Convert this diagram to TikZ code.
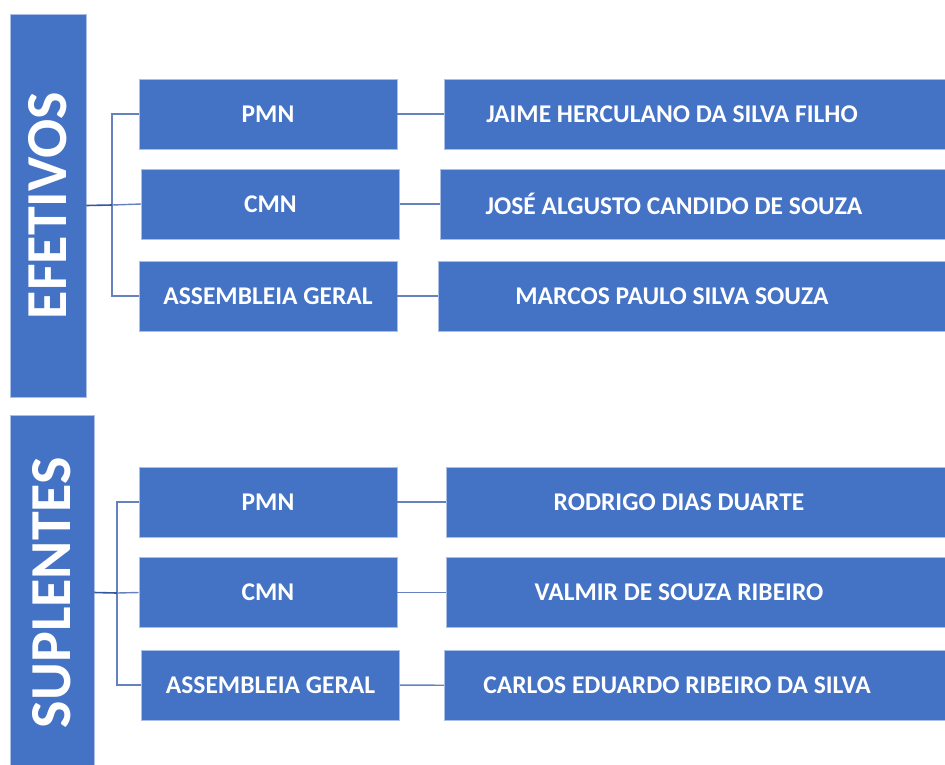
\documentclass[tikz,border=0pt]{standalone}
\usepackage{fontspec}
\setmainfont{Carlito}
\definecolor{caixa}{HTML}{4472C4}
\definecolor{borda}{HTML}{A9BFE6}
\definecolor{ligacao}{HTML}{6682BE}
\definecolor{tronco}{HTML}{34569A}
\tikzset{
	grupo/.style={fill=caixa, draw=borda, line width=0.6pt, text=white, rotate=90, inner sep=0pt, font=\bfseries\fontsize{58}{58}\selectfont},
	cargo/.style={fill=caixa, draw=borda, line width=0.6pt, text=white, inner sep=0pt, minimum width=258, minimum height=70, font=\bfseries\fontsize{25.5}{25.5}\selectfont},
	nome/.style={fill=caixa, draw=borda, line width=0.6pt, anchor=west, minimum width=540, minimum height=70},
	texto/.style={text=white, inner sep=0pt, font=\bfseries\fontsize{25.5}{25.5}\selectfont},
	ramo/.style={draw=ligacao, line width=1.4pt},
	haste/.style={draw=tronco, line width=1.6pt}
}
\begin{document}
\begin{tikzpicture}[x=1pt,y=-1pt]
			\useasboundingbox (0,0) rectangle (945,764);
			\clip (0,0) rectangle (945,764);
			\node[grupo, minimum width=383, minimum height=76] (ef) at (48,205.5) {EFETIVOS};
			\node[grupo, minimum width=355, minimum height=84] (su) at (52,592.5) {SUPLENTES};
			\node[cargo] (p1) at (268,114) {PMN};
			\node[cargo] (c1) at (270.5,204) {CMN};
			\node[cargo] (a1) at (268,296) {ASSEMBLEIA GERAL};
			\node[cargo] (p2) at (268,502) {PMN};
			\node[cargo] (c2) at (268,592.5) {CMN};
			\node[cargo] (a2) at (270.5,685) {ASSEMBLEIA GERAL};
			\node[nome] (e1) at (444,114) {};
			\node[nome] (e2) at (440,204) {};
			\node[nome] (e3) at (438,296) {};
			\node[nome] (s1) at (446,502) {};
			\node[nome] (s2) at (446,592.5) {};
			\node[nome] (s3) at (444,685.5) {};
			\node[texto] (te1) at ([xshift=228]e1.west) {JAIME HERCULANO DA SILVA FILHO};
			\node[texto] (te2) at ([xshift=234]e2.west) {JOSÉ ALGUSTO CANDIDO DE SOUZA};
			\node[texto] (te3) at ([xshift=234]e3.west) {MARCOS PAULO SILVA SOUZA};
			\node[texto] (ts1) at ([xshift=233]s1.west) {RODRIGO DIAS DUARTE};
			\node[texto] (ts2) at ([xshift=233]s2.west) {VALMIR DE SOUZA RIBEIRO};
			\node[texto] (ts3) at ([xshift=233]s3.west) {CARLOS EDUARDO RIBEIRO DA SILVA};
			\coordinate (je) at (112,205);
			\coordinate (js) at (117,593);
			\draw[ramo] (p1.west) -| (je) |- (a1.west);
			\draw[ramo] (p2.west) -| (js) |- (a2.west);
			\draw[ramo] (je) -- (c1.west);
			\draw[ramo] (js) -- (c2.west);
			\draw[haste] (ef.south) -- (je);
			\draw[haste] (su.south) -- (js);
			\draw[ramo] (p1) -- (e1);
			\draw[ramo] (c1) -- (e2);
			\draw[ramo] (a1) -- (e3);
			\draw[ramo] (p2) -- (s1);
			\draw[ramo] (c2) -- (s2);
			\draw[ramo] (a2) -- (s3);
		\end{tikzpicture}
\end{document}
